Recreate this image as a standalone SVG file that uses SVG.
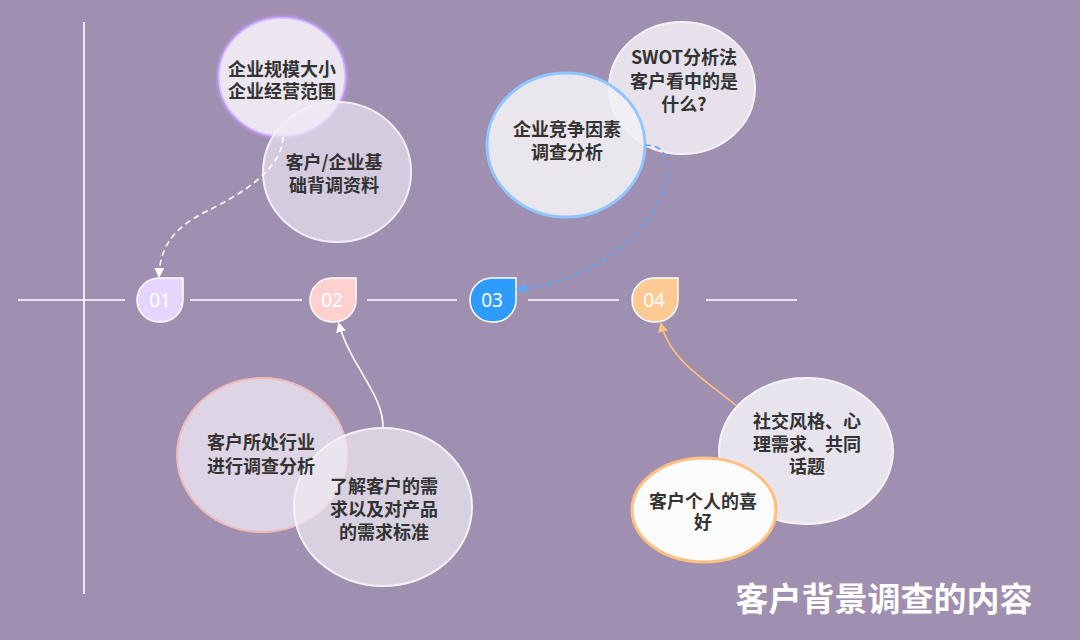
<svg xmlns="http://www.w3.org/2000/svg" width="1080" height="640" viewBox="0 0 1080 640">
<style>
.t{font-family:"Noto Sans CJK SC","Noto Sans",sans-serif;font-weight:bold;font-size:18px;fill:#333;text-anchor:middle}
.n{font-family:"Noto Sans","Noto Sans CJK SC",sans-serif;font-size:19px;fill:#fff;text-anchor:middle}
.ax{stroke:#fff;stroke-width:1.6;fill:none}
.tag{stroke:#fff;stroke-width:1.5}
</style>
<defs>
<marker id="aw" markerWidth="10" markerHeight="10" refX="8" refY="5" orient="auto" markerUnits="userSpaceOnUse"><path d="M0,0 L10,5 L0,10 Z" fill="#fff"/></marker>
<marker id="ab" markerWidth="10" markerHeight="10" refX="8" refY="5" orient="auto" markerUnits="userSpaceOnUse"><path d="M0,0 L10,5 L0,10 Z" fill="#5aa8ff"/></marker>
<marker id="ao" markerWidth="10" markerHeight="10" refX="8" refY="5" orient="auto" markerUnits="userSpaceOnUse"><path d="M0,0 L10,5 L0,10 Z" fill="#ffc080"/></marker>
<filter id="glow" x="-20%" y="-20%" width="140%" height="140%"><feGaussianBlur stdDeviation="1.5"/></filter>
</defs>
<rect width="1080" height="640" fill="#9f8fb0"/>
<g id="axes">
<line class="ax" x1="84" y1="22" x2="84" y2="594"/>
<line class="ax" x1="18" y1="300" x2="125" y2="300"/>
<line class="ax" x1="190" y1="300" x2="302" y2="300"/>
<line class="ax" x1="367" y1="300" x2="457" y2="300"/>
<line class="ax" x1="528" y1="300" x2="619" y2="300"/>
<line class="ax" x1="706" y1="300" x2="797" y2="300"/>
</g>
<g id="tag01"><path class="tag" fill="#e6d5ff" d="M159,278 H183 V300 A22,22 0 0 1 161,322 H159 A22,22 0 0 1 137,300 A22,22 0 0 1 159,278 Z"/><text class="n" x="160" y="307">01</text></g>
<g id="tag02"><path class="tag" fill="#ffd0d0" d="M332,278 H356 V300 A22,22 0 0 1 334,322 H332 A22,22 0 0 1 310,300 A22,22 0 0 1 332,278 Z"/><text class="n" x="332" y="307">02</text></g>
<g id="tag03"><path class="tag" fill="#2e9bff" d="M492,278 H516 V300 A22,22 0 0 1 494,322 H492 A22,22 0 0 1 470,300 A22,22 0 0 1 492,278 Z"/><text class="n" x="492" y="307">03</text></g>
<g id="tag04"><path class="tag" fill="#ffc994" d="M654,278 H678 V300 A22,22 0 0 1 656,322 H654 A22,22 0 0 1 632,300 A22,22 0 0 1 654,278 Z"/><text class="n" x="654" y="307">04</text></g>

<g id="n1">
<ellipse cx="282" cy="77" rx="63" ry="59" fill="none" stroke="#c79cff" stroke-width="4" filter="url(#glow)"/>
<ellipse cx="282" cy="77" rx="63" ry="59" fill="#ece6f1" stroke="#d8bcff" stroke-width="1.5"/>
<text class="t"><tspan x="282" y="76">企业规模大小</tspan><tspan x="282" y="98">企业经营范围</tspan></text>
</g>
<g id="n2">
<ellipse cx="337" cy="172" rx="74" ry="70" fill="#eee9f3" fill-opacity="0.68" stroke="#f2eef5" stroke-width="2"/>
<text class="t"><tspan x="334" y="169">客户/企业基</tspan><tspan x="334" y="192">础背调资料</tspan></text>
</g>
<g id="n3">
<ellipse cx="682" cy="88" rx="73" ry="66" fill="#e6e1eb" stroke="#f4f2f6" stroke-width="2"/>
<text class="t"><tspan x="684" y="64">SWOT分析法</tspan><tspan x="684" y="88">客户看中的是</tspan><tspan x="684" y="111">什么?</tspan></text>
</g>
<g id="n4">
<ellipse cx="566" cy="145" rx="79" ry="72" fill="#f2eff5" fill-opacity="0.9" stroke="#8fc6ff" stroke-width="3"/>
<text class="t"><tspan x="567" y="136">企业竞争因素</tspan><tspan x="567" y="159">调查分析</tspan></text>
</g>
<g id="n5">
<ellipse cx="262" cy="455" rx="85" ry="77" fill="#ddd5e6" stroke="#f2b9b9" stroke-width="2"/>
</g>
<g id="n6">
<ellipse cx="383" cy="507" rx="89" ry="79" fill="#eeeaf2" fill-opacity="0.72" stroke="#f5f2f7" stroke-width="2"/>
<text class="t"><tspan x="384" y="493">了解客户的需</tspan><tspan x="384" y="516">求以及对产品</tspan><tspan x="384" y="539">的需求标准</tspan></text>
</g>
<g id="n5text">
<text class="t"><tspan x="261" y="449">客户所处行业</tspan><tspan x="261" y="473">进行调查分析</tspan></text>
</g>
<g id="n7">
<ellipse cx="806" cy="451" rx="87" ry="73" fill="#e8e4ee" stroke="#f5f3f7" stroke-width="2"/>
<text class="t"><tspan x="807" y="428">社交风格、心</tspan><tspan x="807" y="451">理需求、共同</tspan><tspan x="807" y="473">话题</tspan></text>
</g>
<g id="n8">
<ellipse cx="704" cy="510" rx="72" ry="52" fill="#fdfcfd" stroke="#ffc080" stroke-width="3"/>
<text class="t"><tspan x="703" y="508">客户个人的喜</tspan><tspan x="703" y="529">好</tspan></text>
</g>

<g id="connectors" fill="none">
<path d="M283,137 C282,170 240,195 205,212 C170,230 160,250 159,276" stroke="#fff" stroke-width="1.6" stroke-dasharray="6,4" marker-end="url(#aw)"/>
<path d="M645,145 C665,145 672,160 665,185 C650,240 580,285 518,289" stroke="#5aa8ff" stroke-width="1.6" stroke-dasharray="6,4" marker-end="url(#ab)"/>
<path d="M383,428 C384,395 350,365 339,324" stroke="#fff" stroke-width="1.6" marker-end="url(#aw)"/>
<path d="M737,406 C705,380 670,360 661,324" stroke="#ffc080" stroke-width="1.6" marker-end="url(#ao)"/>
</g>
<text x="884" y="611" font-family="Noto Sans CJK SC,Noto Sans,sans-serif" font-weight="bold" font-size="33" fill="#fff" text-anchor="middle">客户背景调查的内容</text>
</svg>
